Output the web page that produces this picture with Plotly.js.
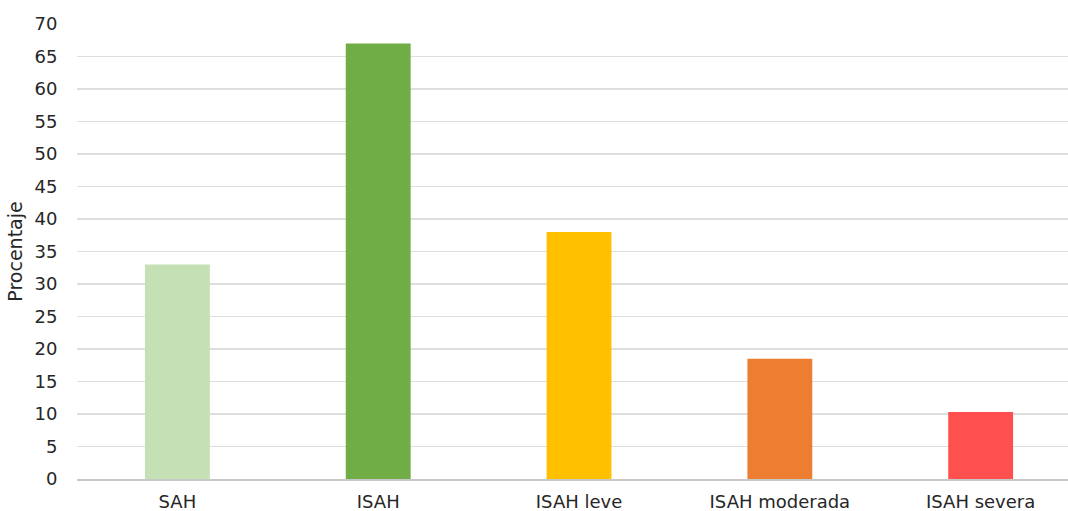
<!DOCTYPE html>
<html>
<head>
<meta charset="utf-8">
<script src="https://cdn.plot.ly/plotly-3.0.1.min.js"></script>
<style>
  html, body { margin: 0; padding: 0; background: #fff; }
  #chart { width: 1068px; height: 511px; }
</style>
</head>
<body>
<div id="chart"></div>
<script>
// Categories and percentages
const categorias = ['SAH', 'ISAH', 'ISAH leve', 'ISAH moderada', 'ISAH severa'];
const porcentajes = [33, 67, 38, 18.5, 10.3];
const colores = ['#c5e0b4', '#70ad47', '#ffc000', '#ed7d31', '#ff5050'];
const yTicks = [0, 5, 10, 15, 20, 25, 30, 35, 40, 45, 50, 55, 60, 65, 70];

const fontFamily = 'DejaVu Sans, Verdana, sans-serif';
const fontSize = 18;

const trace = {
  type: 'bar',
  x: categorias,
  y: porcentajes,
  marker: { color: colores, line: { width: 0 } },
  width: 0.323,
  hoverinfo: 'x+y'
};

const layout = {
  width: 1068,
  height: 511,
  margin: { l: 77, r: 0, t: 24, b: 32 },
  paper_bgcolor: '#ffffff',
  plot_bgcolor: '#ffffff',
  showlegend: false,
  font: { family: fontFamily, size: fontSize, color: '#262626' },
  xaxis: {
    type: 'category',
    range: [-0.5, 4.435],
    showgrid: false,
    zeroline: false,
    showline: true,
    linecolor: '#c8c8c8',
    linewidth: 1.5,
    layer: 'above traces',
    ticks: 'outside',
    ticklen: 6,
    tickcolor: 'rgba(0,0,0,0)',
    tickfont: { family: fontFamily, size: fontSize, color: '#262626' },
    fixedrange: true
  },
  yaxis: {
    range: [0, 70],
    tickvals: yTicks,
    ticktext: yTicks.map(String),
    showgrid: true,
    gridcolor: '#dedede',
    gridwidth: 1.5,
    zeroline: false,
    showline: false,
    ticks: 'outside',
    ticklen: 15,
    tickcolor: 'rgba(0,0,0,0)',
    tickfont: { family: fontFamily, size: fontSize, color: '#262626' },
    title: { text: 'Procentaje', font: { family: fontFamily, size: 19, color: '#262626' }, standoff: 6 },
    fixedrange: true
  }
};

Plotly.newPlot('chart', [trace], layout, { displayModeBar: false, staticPlot: true });
</script>
</body>
</html>
